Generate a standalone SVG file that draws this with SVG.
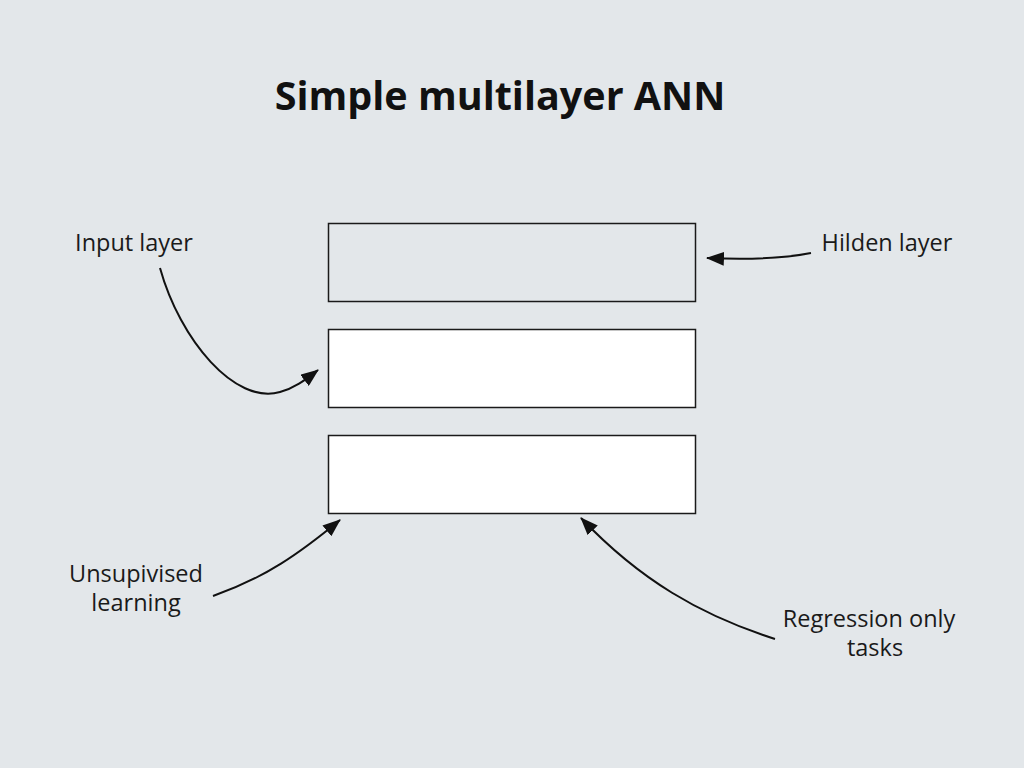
<svg xmlns="http://www.w3.org/2000/svg" width="1024" height="768" viewBox="0 0 1024 768">
<defs>
<style>
.bg{fill:#e3e7ea}
.box{stroke:#1a1a1a;stroke-width:1.5}
.lbl{font-family:"Open Sans","Noto Sans","Liberation Sans",sans-serif;font-size:23.5px;fill:#1a1a1a}
.title{font-family:"Open Sans","Noto Sans","Liberation Sans",sans-serif;font-size:39.5px;font-weight:bold;fill:#111}
.conn{fill:none;stroke:#111;stroke-width:2}
</style>
<marker id="ah" viewBox="0 0 18 14" refX="17" refY="7" markerWidth="18" markerHeight="14" markerUnits="userSpaceOnUse" orient="auto">
<path d="M0,0 L18,7 L0,14 Z" fill="#111"/>
</marker>
</defs>
<rect class="bg" x="0" y="0" width="1024" height="768"/>
<text class="title" x="500" y="110" text-anchor="middle">Simple multilayer ANN</text>
<g id="box-top"><rect class="box" x="328.5" y="223.5" width="367" height="78" fill="#e3e7ea"/></g>
<g id="box-middle"><rect class="box" x="328.5" y="329.5" width="367" height="78" fill="#ffffff"/></g>
<g id="box-bottom"><rect class="box" x="328.5" y="435.5" width="367" height="78" fill="#ffffff"/></g>
<g id="label-input"><text class="lbl" x="134" y="251" text-anchor="middle">Input layer</text></g>
<g id="label-hidden"><text class="lbl" x="887" y="251" text-anchor="middle">Hilden layer</text></g>
<g id="label-unsup"><text class="lbl" x="136" y="582" text-anchor="middle">Unsupivised</text><text class="lbl" x="136" y="611" text-anchor="middle">learning</text></g>
<g id="label-regression"><text class="lbl" x="869" y="627" text-anchor="middle">Regression only</text><text class="lbl" x="875" y="656" text-anchor="middle">tasks</text></g>
<g id="connectors">
<path class="conn" marker-end="url(#ah)" d="M160,268 C180,340 235,405 280,392 C295,388 305,380 318,370"/>
<path class="conn" marker-end="url(#ah)" d="M811,253 Q770,261 707,258"/>
<path class="conn" marker-end="url(#ah)" d="M213,596 C265,578 300,553 340,520"/>
<path class="conn" marker-end="url(#ah)" d="M775,639 C700,615 640,580 581,518"/>
</g>
</svg>
